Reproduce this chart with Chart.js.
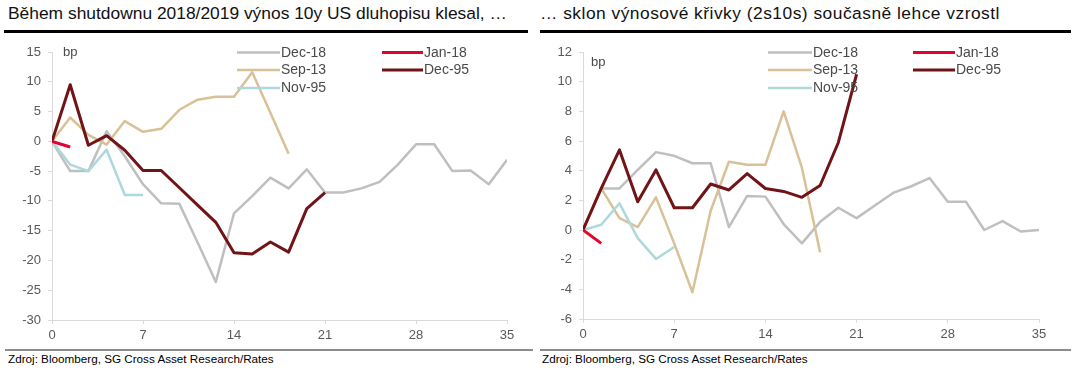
<!DOCTYPE html>
<html><head><meta charset="utf-8">
<script src="https://cdn.jsdelivr.net/npm/chart.js@4"></script>
<style>
body{margin:0;width:1076px;height:372px;background:#fff;position:relative;overflow:hidden;font-family:"Liberation Sans",Arial,Helvetica,sans-serif;}
.title{position:absolute;top:5px;font-size:17.4px;line-height:17.4px;color:#111;white-space:nowrap;}
.rule{position:absolute;top:30px;height:3px;background:#000;}
.srule{position:absolute;top:349px;height:2px;background:#8c8c8c;}
.src{position:absolute;top:353px;font-size:11.7px;line-height:11.7px;color:#000;white-space:nowrap;}
canvas{position:absolute;top:0;}
</style></head><body>
<div class="title" style="left:8px">Během shutdownu 2018/2019 výnos 10y US dluhopisu klesal, …</div>
<div class="title" style="left:540px;letter-spacing:0.48px">… sklon výnosové křivky (2s10s) současně lehce vzrostl</div>
<div class="rule" style="left:4px;width:524px"></div>
<div class="rule" style="left:540px;width:531px"></div>
<canvas id="c1" width="536" height="345" style="left:0"></canvas>
<canvas id="c2" width="540" height="345" style="left:536px"></canvas>
<div class="srule" style="left:5px;width:528px"></div>
<div class="srule" style="left:540px;width:531px"></div>
<div class="src" style="left:8px">Zdroj: Bloomberg, SG Cross Asset Research/Rates</div>
<div class="src" style="left:542px">Zdroj: Bloomberg, SG Cross Asset Research/Rates</div>
<script>
// x positions (calendar days, one point per trading day)
const days = [0,1.4,2.8,4.2,5.6,7,8.4,9.8,11.2,12.6,14,15.4,16.8,18.2,19.6,21,22.4,23.8,25.2,26.6,28,29.4,30.8,32.2,33.6,35];
const xTicks = [0,7,14,21,28,35];
const seriesNames = ['Dec-18','Jan-18','Sep-13','Dec-95','Nov-95'];

// Left: 10y US yield change (bp)
const L_dec18 = [0,-5.0,-5.0,1.7,-2.5,-7.2,-10.4,-10.5,-17.0,-23.6,-12.1,-9.2,-6.1,-7.9,-4.7,-8.6,-8.6,-7.9,-6.8,-3.9,-0.5,-0.5,-5.0,-4.9,-7.2,-3.1];
const L_jan18 = [0,-0.95];
const L_sep13 = [0,4.0,1.1,-0.55,3.4,1.6,2.1,5.3,7.0,7.5,7.5,11.6,4.8,-2.1];
const L_dec95 = [0,9.5,-0.65,0.95,-1.5,-4.9,-4.9,-7.8,-10.7,-13.6,-18.7,-18.9,-16.9,-18.6,-11.3,-8.6];
const L_nov95 = [0,-3.9,-5.0,-1.4,-9.0,-9.0];
const L_yTicks = [-30,-25,-20,-15,-10,-5,0,5,10,15];

// Right: 2s10s slope change (bp)
const R_dec18 = [0,2.8,2.8,4.05,5.25,5.0,4.5,4.5,0.2,2.3,2.25,0.4,-0.9,0.55,1.5,0.8,1.65,2.5,2.95,3.5,1.9,1.9,0.0,0.6,-0.1,0.0];
const R_jan18 = [0,-0.9];
const R_sep13 = [0,2.8,0.8,0.2,2.2,-0.9,-4.2,1.3,4.6,4.4,4.4,8.0,4.2,-1.5];
const R_dec95 = [0,2.8,5.4,1.9,4.05,1.5,1.5,3.1,2.7,3.8,2.8,2.6,2.2,3.0,5.9,10.5];
const R_nov95 = [0,0.35,1.8,-0.55,-1.95,-1.15];
const R_yTicks = [-6,-4,-2,0,2,4,6,8,10,12];

const FONT = '"Liberation Sans", Arial, Helvetica, sans-serif';
const colors = {'Dec-18':'#BFBFBF','Jan-18':'#E3042E','Sep-13':'#D8C196','Dec-95':'#701417','Nov-95':'#AED8DC'};
const widths = {'Dec-18':2.5,'Jan-18':3,'Sep-13':2.5,'Dec-95':3,'Nov-95':2.5};

function pts(arr){ return arr.map((v,i)=>({x:days[i], y:v})); }

function buildDatasets(map){
  // drawing order: first dataset on top
  return ['Jan-18','Dec-95','Nov-95','Sep-13','Dec-18'].map(n=>({
    label:n, data:pts(map[n]), borderColor:colors[n], backgroundColor:colors[n],
    borderWidth:widths[n], pointRadius:0, tension:0, fill:false,
    borderJoinStyle:'round', borderCapStyle:'butt'
  }));
}

const overlay = {
  id:'overlay',
  afterDraw(chart, args, opts){
    const ctx = chart.ctx; ctx.save();
    ctx.font = '14px ' + FONT; ctx.textBaseline = 'middle'; ctx.textAlign='left';
    opts.items.forEach(it=>{
      ctx.strokeStyle = colors[it.n]; ctx.lineWidth = widths[it.n];
      ctx.beginPath(); ctx.moveTo(it.x1,it.y); ctx.lineTo(it.x2,it.y); ctx.stroke();
      ctx.fillStyle = '#4a4a4a'; ctx.fillText(it.n, it.x2+1, it.y+0.5);
    });
    ctx.font = '13px ' + FONT; ctx.fillStyle = '#4a4a4a';
    ctx.fillText('bp', opts.bp.x, opts.bp.y);
    ctx.restore();
  }
};

function makeChart(id, map, yTicks, yW, padR, bottomH, legend, bp){
  new Chart(document.getElementById(id), {
    type:'line',
    data:{datasets:buildDatasets(map)},
    options:{
      responsive:false, animation:false, devicePixelRatio:1,
      layout:{padding:{left:0,right:padR,top:52,bottom:0}},
      plugins:{legend:{display:false}, tooltip:{enabled:false}, overlay:{items:legend, bp:bp}},
      scales:{
        x:{type:'linear', min:0, max:35,
           afterBuildTicks:s=>{s.ticks = xTicks.map(v=>({value:v}));},
           afterFit:s=>{s.height = bottomH;},
           grid:{drawOnChartArea:false, drawTicks:true, tickLength:4, color:'#d9d9d9'},
           border:{color:'#d9d9d9', width:1},
           ticks:{font:{family:FONT,size:13}, color:'#595959', padding:4, maxRotation:0}},
        y:{type:'linear', min:yTicks[0], max:yTicks[yTicks.length-1],
           afterBuildTicks:s=>{s.ticks = yTicks.map(v=>({value:v}));},
           afterFit:s=>{s.width = yW;},
           grid:{drawOnChartArea:false, drawTicks:true, tickLength:4, color:'#d9d9d9'},
           border:{color:'#d9d9d9', width:1},
           ticks:{font:{family:FONT,size:13}, color:'#595959', padding:7}}
      }
    },
    plugins:[overlay]
  });
}

makeChart('c1', {'Dec-18':L_dec18,'Jan-18':L_jan18,'Sep-13':L_sep13,'Dec-95':L_dec95,'Nov-95':L_nov95},
  L_yTicks, 52, 29, 25,
  [{n:'Dec-18',x1:237,x2:280,y:52.5},{n:'Sep-13',x1:237,x2:280,y:70},{n:'Nov-95',x1:237,x2:280,y:88},
   {n:'Jan-18',x1:382,x2:423,y:52.5},{n:'Dec-95',x1:382,x2:423,y:70}],
  {x:63,y:52});

makeChart('c2', {'Dec-18':R_dec18,'Jan-18':R_jan18,'Sep-13':R_sep13,'Dec-95':R_dec95,'Nov-95':R_nov95},
  R_yTicks, 47, 37, 26,
  [{n:'Dec-18',x1:232,x2:276,y:52.5},{n:'Sep-13',x1:232,x2:276,y:70},{n:'Nov-95',x1:232,x2:276,y:88},
   {n:'Jan-18',x1:377,x2:419,y:52.5},{n:'Dec-95',x1:377,x2:419,y:70}],
  {x:55,y:62});
</script>
</body></html>
